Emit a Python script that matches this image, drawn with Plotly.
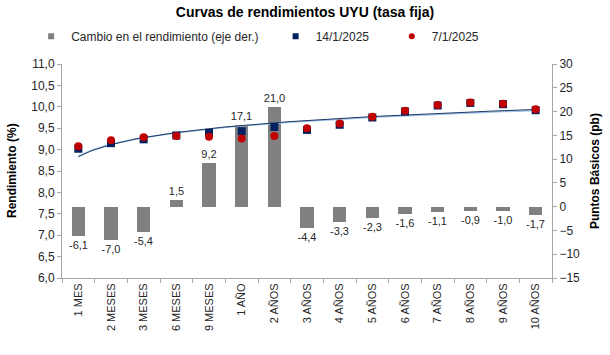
import numpy as np
import plotly.graph_objects as go

categories = ["1 MES", "2 MESES", "3 MESES", "6 MESES", "9 MESES", "1 AÑO", "2 AÑOS",
              "3 AÑOS", "4 AÑOS", "5 AÑOS", "6 AÑOS", "7 AÑOS", "8 AÑOS", "9 AÑOS", "10 AÑOS"]
change_bp = [-6.1, -7.0, -5.4, 1.5, 9.2, 17.1, 21.0, -4.4, -3.3, -2.3, -1.6, -1.1, -0.9, -1.0, -1.7]
yield_jan14 = [9.02, 9.15, 9.24, 9.33, 9.39, 9.43, 9.53, 9.46, 9.58, 9.75, 9.89, 10.03, 10.09, 10.06, 9.92]
yield_jan7 = [9.08, 9.22, 9.29, 9.32, 9.30, 9.26, 9.32, 9.50, 9.61, 9.77, 9.91, 10.04, 10.10, 10.07, 9.94]

FONT = "Liberation Sans, Arial, sans-serif"
xpos = np.arange(1, len(categories) + 1)

def log_trend(vals):
    b, a = np.polyfit(np.log(xpos), np.array(vals), 1)
    xs = np.linspace(1, len(categories), 120)
    return xs, a + b * np.log(xs)

fig = go.Figure()

fig.add_trace(go.Bar(
    x=xpos, y=change_bp, name="Cambio en el rendimiento (eje der.)",
    marker=dict(color="#808080", line=dict(width=0)), width=0.4,
    text=[f"{v:.1f}".replace(".", ",") for v in change_bp],
    textposition="outside", textfont=dict(size=11, color="#262626", family=FONT),
    cliponaxis=False, constraintext="none", yaxis="y", showlegend=False,
))

xs, t14 = log_trend(yield_jan14)
xs, t7 = log_trend(yield_jan7)
fig.add_trace(go.Scatter(x=xs, y=t7, mode="lines", line=dict(color="#9dc3e6", width=1.5),
                         showlegend=False, yaxis="y2", hoverinfo="skip"))
fig.add_trace(go.Scatter(x=xs, y=t14, mode="lines", line=dict(color="#1f3864", width=1),
                         showlegend=False, yaxis="y2", hoverinfo="skip"))

fig.add_trace(go.Scatter(
    x=xpos, y=yield_jan14, mode="markers", name="14/1/2025",
    marker=dict(symbol="square", size=8, color="#002060"), yaxis="y2", showlegend=False,
))
fig.add_trace(go.Scatter(
    x=xpos, y=yield_jan7, mode="markers", name="7/1/2025",
    marker=dict(symbol="circle", size=8, color="#c00000"), yaxis="y2", showlegend=False,
))

# legend-only entries (small symbols like the reference)
fig.add_trace(go.Scatter(x=[None], y=[None], mode="markers", name="Cambio en el rendimiento (eje der.)",
                         marker=dict(symbol="square", size=6, color="#808080"), legend="legend"))
fig.add_trace(go.Scatter(x=[None], y=[None], mode="markers", name="14/1/2025",
                         marker=dict(symbol="square", size=6, color="#002060"), legend="legend2"))
fig.add_trace(go.Scatter(x=[None], y=[None], mode="markers", name="7/1/2025",
                         marker=dict(symbol="circle", size=6, color="#c00000"), legend="legend3"))

axis_color = "#a6a6a6"
leg_common = dict(xref="paper", yref="paper", xanchor="left", yanchor="middle", y=1.13,
                  orientation="h", font=dict(size=12, color="#262626"), bgcolor="rgba(0,0,0,0)",
                  itemwidth=30)
fig.update_layout(
    width=610, height=355,
    margin=dict(l=62, r=58, t=64, b=77, autoexpand=False),
    paper_bgcolor="white", plot_bgcolor="white",
    separators=",.",
    font=dict(family=FONT, size=12, color="#262626"),
    title=dict(text="<b>Curvas de rendimientos UYU (tasa fija)</b>", x=0.5, xanchor="center",
               y=0.98, yanchor="top", font=dict(size=14, color="#000000")),
    bargap=0,
    xaxis=dict(
        range=[0.5, len(categories) + 0.5], tickmode="array", tickvals=xpos, ticktext=categories,
        tickangle=-90, ticks="", showgrid=False, zeroline=False,
        showline=True, linecolor=axis_color, linewidth=1,
        tickfont=dict(size=11, color="#262626"),
        minor=dict(tickmode="array", tickvals=list(np.arange(0.5, len(categories) + 1, 1.0)),
                   ticks="outside", ticklen=4, tickcolor=axis_color, showgrid=False),
    ),
    yaxis=dict(
        side="right", range=[-15, 30], tickmode="linear", tick0=-15, dtick=5,
        showgrid=False, zeroline=False, showline=True, linecolor=axis_color,
        ticks="outside", ticklen=4, tickcolor=axis_color,
        tickfont=dict(size=12, color="#262626"),
    ),
    yaxis2=dict(
        overlaying="y", side="left", range=[6, 11], tickmode="linear", tick0=6, dtick=0.5,
        tickformat=".1f", showgrid=False, zeroline=False, showline=True, linecolor=axis_color,
        ticks="outside", ticklen=4, tickcolor=axis_color,
        tickfont=dict(size=12, color="#262626"),
    ),
    legend=dict(x=-0.063, **leg_common),
    legend2=dict(x=0.436, **leg_common),
    legend3=dict(x=0.673, **leg_common),
    annotations=[
        dict(text="<b>Rendimiento (%)</b>", xref="paper", yref="paper", x=-0.102, y=0.5,
             xanchor="center", yanchor="middle", textangle=-90, showarrow=False,
             font=dict(size=12, color="#000000")),
        dict(text="<b>Puntos Básicos (pb)</b>", xref="paper", yref="paper", x=1.088, y=0.5,
             xanchor="center", yanchor="middle", textangle=-90, showarrow=False,
             font=dict(size=12, color="#000000")),
    ],
)

fig.write_html("out.html", config={"displayModeBar": False},
               post_script="document.body.style.margin='0px';")
